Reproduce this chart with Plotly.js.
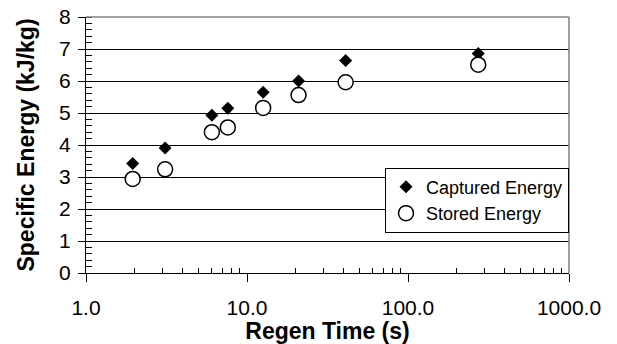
<!DOCTYPE html>
<html>
<head>
<meta charset="utf-8">
<script src="https://cdn.plot.ly/plotly-3.0.1.min.js"></script>
<style>html,body{margin:0;padding:0;background:#fff;}#chart{width:617px;height:344px;}</style>
</head>
<body>
<div id="chart"></div>
<script>
// Data
const regenTime = [1.95, 3.1, 6.05, 7.6, 12.6, 20.9, 41, 273];
const capturedEnergy = [3.42, 3.91, 4.93, 5.15, 5.65, 6.0, 6.64, 6.86];
const storedEnergy = [2.94, 3.24, 4.40, 4.55, 5.16, 5.56, 5.96, 6.51];
const xTickVals = [1, 10, 100, 1000];
const xTickText = ["1.0", "10.0", "100.0", "1000.0"];
const yTickVals = [0, 1, 2, 3, 4, 5, 6, 7, 8];

const xMinor = [];
[1, 10, 100].forEach(d => { for (let k = 2; k <= 9; k++) xMinor.push(d * k); });

const font = "Liberation Sans, Arial, sans-serif";

const traces = [
  {
    x: regenTime, y: capturedEnergy, name: "Captured Energy",
    type: "scatter", mode: "markers",
    marker: {symbol: "diamond", size: 10, color: "#000"}
  },
  {
    x: regenTime, y: storedEnergy, name: "Stored Energy",
    type: "scatter", mode: "markers",
    marker: {symbol: "circle", size: 15, color: "#fff", line: {color: "#000", width: 1.5}}
  }
];

const layout = {
  width: 617, height: 344,
  margin: {l: 86, r: 48, t: 17, b: 71},
  paper_bgcolor: "#fff", plot_bgcolor: "#fff",
  font: {family: font, color: "#000", size: 18},
  showlegend: true,
  legend: {
    x: 1, xanchor: "right", y: 0.412, yanchor: "top",
    bgcolor: "#fff", bordercolor: "#000", borderwidth: 1,
    font: {family: font, size: 18, color: "#000"},
    itemwidth: 30
  },
  xaxis: {
    type: "log", range: [0, 3],
    tickmode: "array", tickvals: xTickVals, ticktext: xTickText,
    ticks: "outside", ticklen: 8, tickcolor: "#000", tickwidth: 1,
    ticklabelstandoff: 8,
    showgrid: false, zeroline: false,
    showline: true, linecolor: "#000", linewidth: 1,
    tickfont: {family: font, size: 21, color: "#000"},
    minor: {tickmode: "array", tickvals: xMinor, ticks: "inside", ticklen: 5, tickcolor: "#000", showgrid: false},
    title: {text: "<b>Regen Time (s)</b>", font: {family: font, size: 23, color: "#000"}, standoff: 9}
  },
  yaxis: {
    range: [0, 8],
    tickmode: "array", tickvals: yTickVals,
    ticks: "outside", ticklen: 7, tickcolor: "#000", tickwidth: 1,
    ticklabelstandoff: 3,
    showgrid: true, gridcolor: "#000", gridwidth: 1, zeroline: false,
    showline: true, linecolor: "#000", linewidth: 1,
    tickfont: {family: font, size: 21, color: "#000"},
    minor: {dtick: 0.2, ticks: "inside", ticklen: 6, tickcolor: "#000", showgrid: false},
    title: {text: "<b>Specific Energy (kJ/kg)</b>", font: {family: font, size: 23, color: "#000"}, standoff: 18}
  },
  shapes: [
    {type: "line", xref: "paper", yref: "paper", x0: 0, x1: 1, y0: 1, y1: 1, line: {color: "#808080", width: 1.5}},
    {type: "line", xref: "paper", yref: "paper", x0: 1, x1: 1, y0: 0, y1: 1, line: {color: "#808080", width: 1.5}}
  ]
};

Plotly.newPlot("chart", traces, layout, {displayModeBar: false, staticPlot: true});
</script>
</body>
</html>
